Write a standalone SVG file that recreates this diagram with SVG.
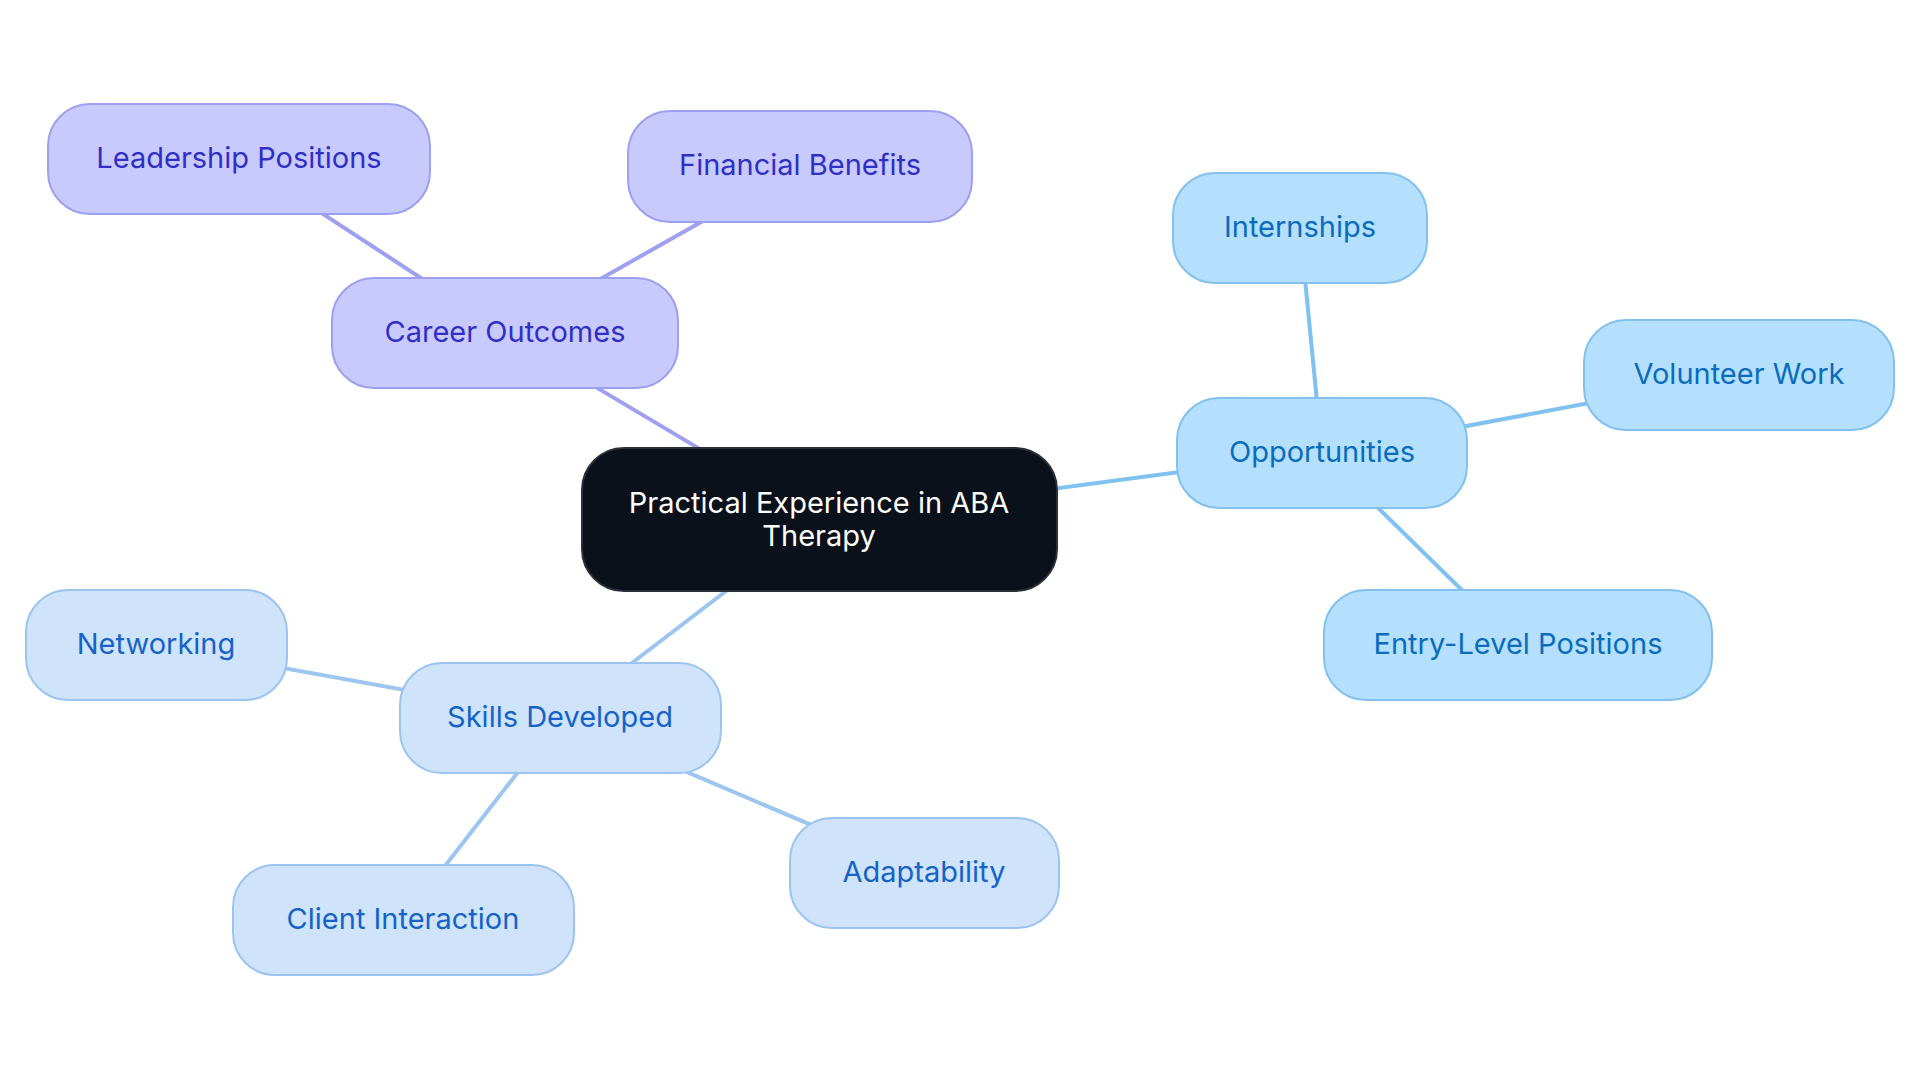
<svg xmlns="http://www.w3.org/2000/svg" width="1920" height="1083" viewBox="0 0 1920 1083">
<style>
.e{fill:none;stroke-width:4;stroke-linecap:round}
.ep{stroke:#9ea1f1}
.eo{stroke:#7fc2f1}
.es{stroke:#9cc5ef}
.n rect{stroke-width:2}
.p rect{fill:#c8cafd;stroke:#9d9ff0}
.p text{fill:#2f2fc6}
.o rect{fill:#b4dffd;stroke:#80c1f0}
.o text{fill:#0a6cbd}
.s rect{fill:#cfe3fb;stroke:#9cc4f0}
.s text{fill:#1563c9}
text{font-family:Inter,"Noto Sans",sans-serif;font-size:29px;text-anchor:middle;dominant-baseline:central}
.c rect{fill:#0b111a;stroke:#2b3038}
.c text{fill:#ffffff}
</style>
<rect width="1920" height="1083" fill="#ffffff"/>
<g id="connectors">
<line class="e ep" x1="819" y1="520" x2="505" y2="333"/>
<line class="e ep" x1="505" y1="333" x2="239" y2="159"/>
<line class="e ep" x1="505" y1="333" x2="800" y2="166"/>
<line class="e eo" x1="819" y1="520" x2="1322" y2="453"/>
<line class="e eo" x1="1322" y1="453" x2="1300" y2="228"/>
<line class="e eo" x1="1322" y1="453" x2="1739" y2="375"/>
<line class="e eo" x1="1322" y1="453" x2="1518" y2="645"/>
<line class="e es" x1="819" y1="520" x2="560" y2="718"/>
<line class="e es" x1="560" y1="718" x2="156" y2="645"/>
<line class="e es" x1="560" y1="718" x2="403" y2="920"/>
<line class="e es" x1="560" y1="718" x2="924" y2="873"/>
</g>
<g id="central" class="n c"><rect x="582" y="448" width="475" height="143" rx="42"/><text x="819" y="502">Practical Experience in ABA</text><text x="819" y="535">Therapy</text></g>
<g id="career" class="n p"><rect x="332" y="278" width="346" height="110" rx="42"/><text x="505" y="331">Career Outcomes</text></g>
<g id="financial" class="n p"><rect x="628" y="111" width="344" height="111" rx="42"/><text x="800" y="164">Financial Benefits</text></g>
<g id="leadership" class="n p"><rect x="48" y="104" width="382" height="110" rx="42"/><text x="239" y="157">Leadership Positions</text></g>
<g id="opportunities" class="n o"><rect x="1177" y="398" width="290" height="110" rx="42"/><text x="1322" y="451">Opportunities</text></g>
<g id="internships" class="n o"><rect x="1173" y="173" width="254" height="110" rx="42"/><text x="1300" y="226">Internships</text></g>
<g id="volunteer" class="n o"><rect x="1584" y="320" width="310" height="110" rx="42"/><text x="1739" y="373">Volunteer Work</text></g>
<g id="entry" class="n o"><rect x="1324" y="590" width="388" height="110" rx="42"/><text x="1518" y="643">Entry-Level Positions</text></g>
<g id="skills" class="n s"><rect x="400" y="663" width="321" height="110" rx="42"/><text x="560" y="716">Skills Developed</text></g>
<g id="networking" class="n s"><rect x="26" y="590" width="261" height="110" rx="42"/><text x="156" y="643">Networking</text></g>
<g id="client" class="n s"><rect x="233" y="865" width="341" height="110" rx="42"/><text x="403" y="918">Client Interaction</text></g>
<g id="adaptability" class="n s"><rect x="790" y="818" width="269" height="110" rx="42"/><text x="924" y="871">Adaptability</text></g>
</svg>
